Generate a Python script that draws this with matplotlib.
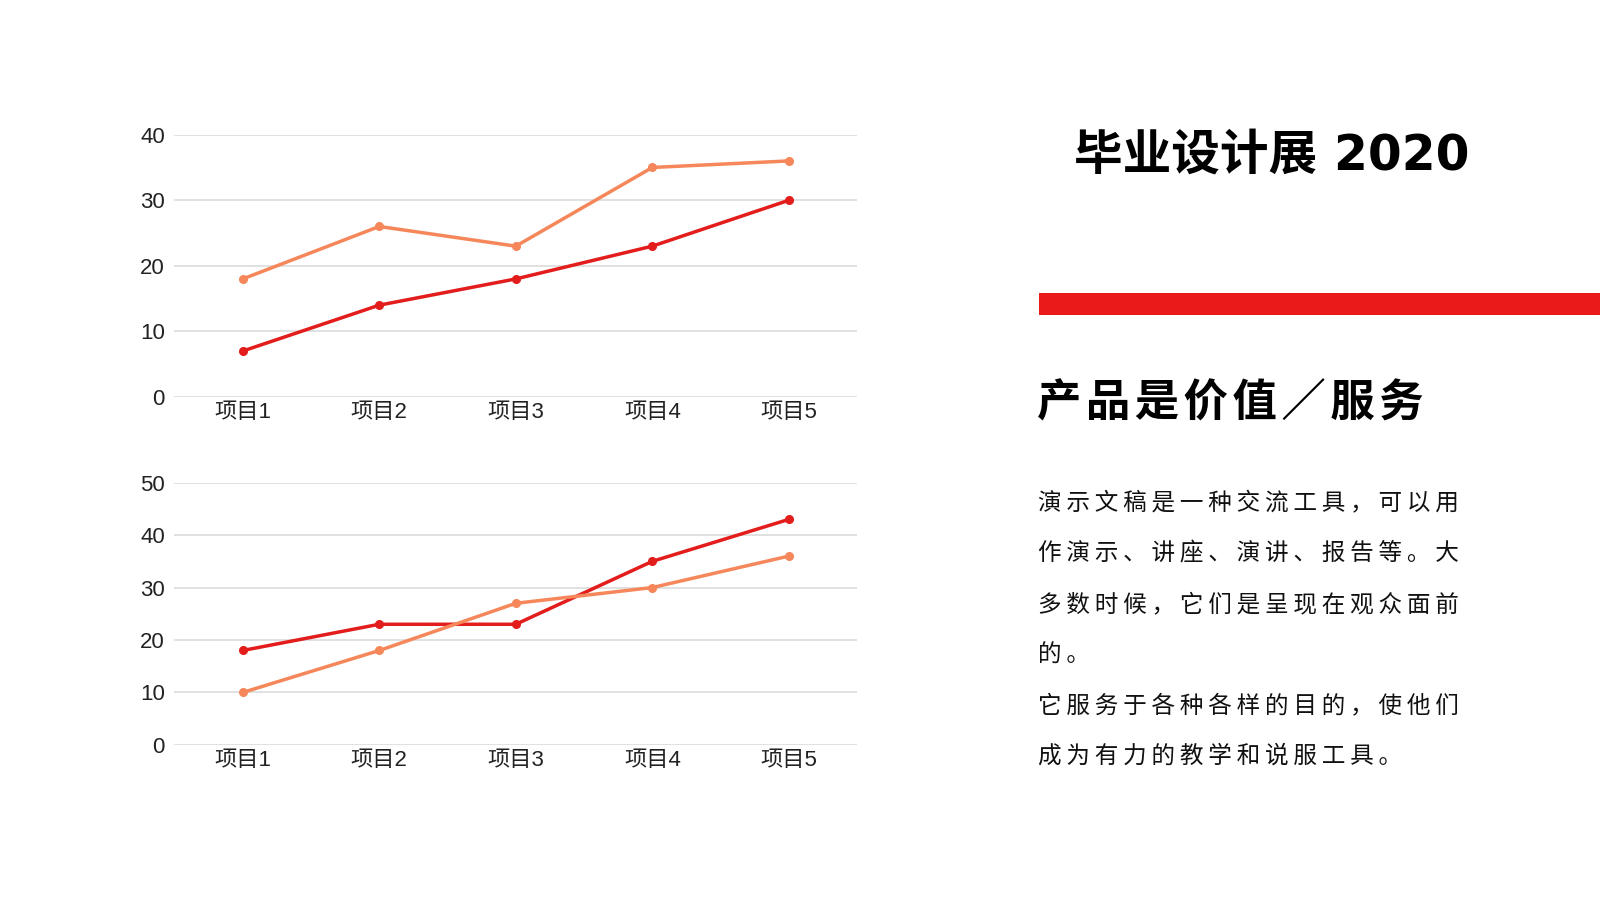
import matplotlib
matplotlib.use("Agg")
import matplotlib.pyplot as plt
from matplotlib.patches import Rectangle

plt.rcParams['font.family'] = ['Liberation Sans', 'Noto Sans CJK SC', 'DejaVu Sans']

# ---- data ----
categories = ["项目1", "项目2", "项目3", "项目4", "项目5"]
top_orange = [18, 26, 23, 35, 36]
top_red = [7, 14, 18, 23, 30]
bottom_red = [18, 23, 23, 35, 43]
bottom_orange = [10, 18, 27, 30, 36]
top_yticks = [0, 10, 20, 30, 40]
bottom_yticks = [0, 10, 20, 30, 40, 50]

title_text = "毕业设计展 2020"
subtitle_text = "产品是价值／服务"
body_lines = [
    "演示文稿是一种交流工具，可以用",
    "作演示、讲座、演讲、报告等。大",
    "多数时候，它们是呈现在观众面前",
    "的。",
    "它服务于各种各样的目的，使他们",
    "成为有力的教学和说服工具。",
]

RED = "#e31c1c"
ORANGE = "#f5875a"
GRID = "#d9d9d9"

W, H = 1568.0, 882.0
def fx(px):
    return px / W
def fy(py):
    return 1 - py / H

def spaced(s, sp):
    return sp.join(list(s))

fig = plt.figure(figsize=(16, 9), dpi=100)
fig.patch.set_facecolor("white")

def make_axes(top_px, bot_px, series, yticks):
    ax = fig.add_axes([fx(171), fy(bot_px), fx(840) - fx(171), fy(top_px) - fy(bot_px)])
    x = list(range(len(categories)))
    for vals, col in series:
        ax.plot(x, vals, color=col, lw=2.5, marker="o", ms=5.5, solid_capstyle="round", zorder=3)
    ax.set_xlim(-0.5, len(categories) - 0.5)
    ax.set_ylim(yticks[0], yticks[-1])
    ax.set_yticks(yticks)
    ax.set_xticks(x)
    ax.set_xticklabels(categories)
    for s in ax.spines.values():
        s.set_visible(False)
    ax.grid(axis="y", color=GRID, lw=1.1, zorder=0)
    ax.tick_params(axis="both", length=0, labelsize=16, colors="#222222")
    ax.tick_params(axis="y", pad=7)
    ax.tick_params(axis="x", pad=4)
    ax.set_axisbelow(True)
    for lab in ax.get_xticklabels() + ax.get_yticklabels():
        lab.set_family(['Liberation Sans', 'Noto Sans CJK SC'])
    return ax

make_axes(132, 389, [(top_orange, ORANGE), (top_red, RED)], top_yticks)
make_axes(473, 730, [(bottom_red, RED), (bottom_orange, ORANGE)], bottom_yticks)

# title
fig.text(fx(1053), fy(152), title_text, fontsize=35, fontweight="heavy",
         family=['DejaVu Sans', 'Noto Sans CJK SC'], color="black", va="center", ha="left")

# red bar
fig.patches.append(Rectangle((fx(1018), fy(309)), 1 - fx(1018), fy(287) - fy(309),
                             transform=fig.transFigure, facecolor="#ea1a1a", edgecolor="none"))

# subtitle
fig.text(fx(1016), fy(395), spaced(subtitle_text, "\u200a"), fontsize=32, fontweight="heavy",
         family=['Noto Sans CJK SC', 'DejaVu Sans'], color="black", va="center", ha="left")

# body
line_y = [494, 543, 593, 642, 692, 741]
for txt, yy in zip(body_lines, line_y):
    fig.text(fx(1017), fy(yy), spaced(txt, "\u2009"), fontsize=17,
             family=['Noto Sans CJK SC', 'DejaVu Sans'],
             color="#111111", va="center", ha="left")

fig.savefig("out.png", dpi=100, facecolor="white")
